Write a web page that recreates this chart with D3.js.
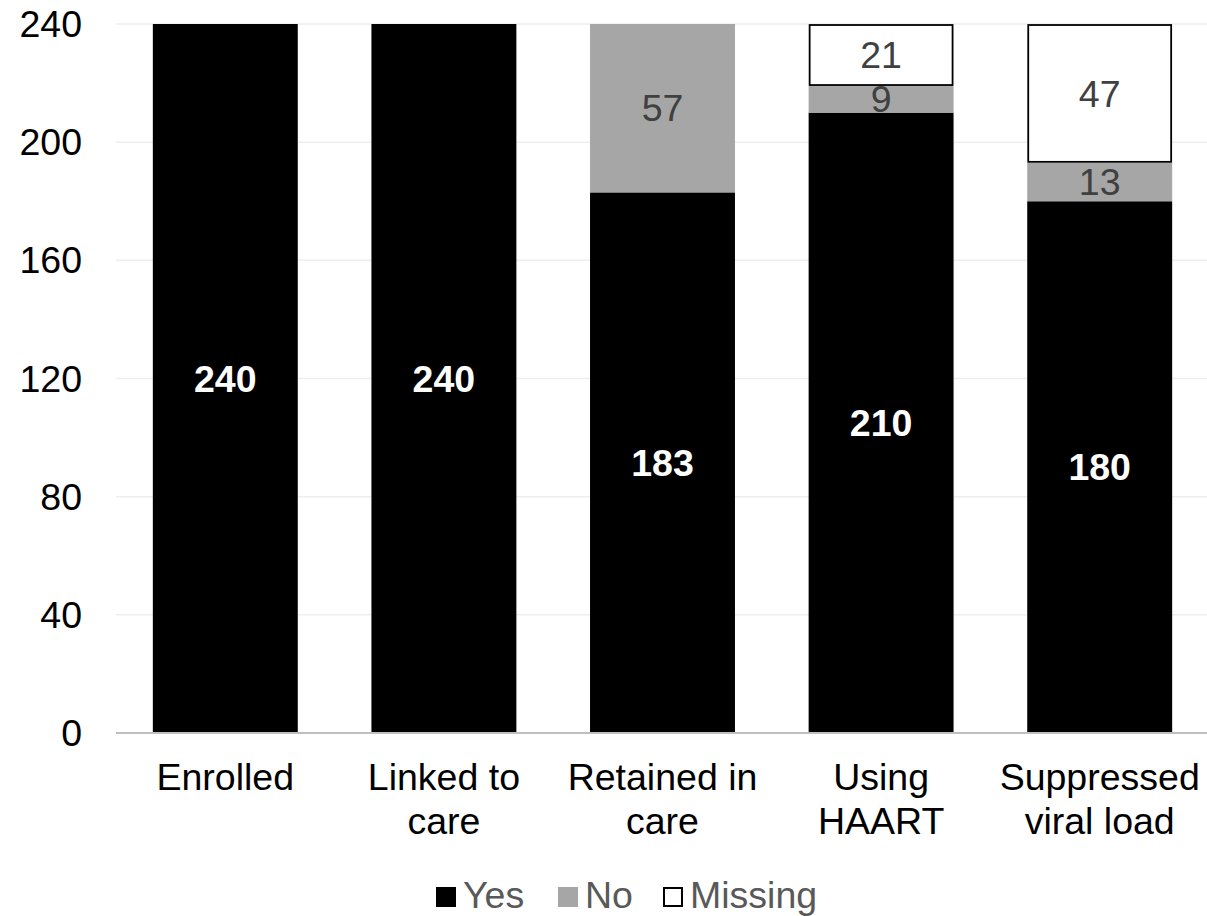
<!DOCTYPE html>
<html>
<head>
<meta charset="utf-8">
<script src="https://cdn.jsdelivr.net/npm/d3@7"></script>
<style>
  body { margin: 0; background: #fff; }
  text { font-family: "Liberation Sans", Arial, sans-serif; }
</style>
</head>
<body>
<svg id="chart" width="1207" height="916"></svg>
<script>
// chart data
var categories = [["Enrolled"], ["Linked to", "care"], ["Retained in", "care"], ["Using", "HAART"], ["Suppressed", "viral load"]];
var yesValues = [240, 240, 183, 210, 180];
var noValues = [0, 0, 57, 9, 13];
var missingValues = [0, 0, 0, 21, 47];
var yTicks = [0, 40, 80, 120, 160, 200, 240];
var seriesNames = ["Yes", "No", "Missing"];

var fontSize = 37.5;
var svg = d3.select("#chart");
var margin = {left: 116, right: -2, top: 24, bottom: 183};
var width = 1207 - margin.left - margin.right;
var height = 916 - margin.top - margin.bottom;

var g = svg.append("g").attr("transform", "translate(" + margin.left + "," + margin.top + ")");

var x = d3.scaleBand()
    .domain(d3.range(categories.length))
    .range([0, width])
    .paddingInner(0.337)
    .paddingOuter(0.1685);

var y = d3.scaleLinear().domain([0, 240]).range([height, 0]);

// gridlines
g.selectAll(".grid").data(yTicks.filter(function(d){ return d > 0; }))
  .enter().append("line")
    .attr("x1", 0).attr("x2", width)
    .attr("y1", function(d){ return y(d); }).attr("y2", function(d){ return y(d); })
    .attr("stroke", "#eeeeee").attr("stroke-width", 1.5);

// y tick labels
g.selectAll(".ytick").data(yTicks)
  .enter().append("text")
    .attr("x", -34)
    .attr("y", function(d){ return y(d); })
    .attr("dy", "0.35em")
    .attr("text-anchor", "end")
    .attr("font-size", fontSize)
    .attr("fill", "#000")
    .text(function(d){ return d; });

// stack the series
var rows = categories.map(function(c, i){
  return {i: i, Yes: yesValues[i], No: noValues[i], Missing: missingValues[i]};
});
var stacked = d3.stack().keys(seriesNames)(rows);
var fills = {Yes: "#000000", No: "#a6a6a6", Missing: "#ffffff"};

stacked.forEach(function(layer){
  var key = layer.key;
  var segs = layer.filter(function(d){ return d[1] - d[0] > 0; });
  var inset = key === "Missing" ? 1 : 0;
  g.selectAll(".seg-" + key).data(segs)
    .enter().append("rect")
      .attr("x", function(d){ return x(d.data.i) + inset; })
      .attr("width", function(d){ return x.bandwidth() - 2 * inset; })
      .attr("y", function(d){ return y(d[1]) + inset; })
      .attr("height", function(d){ return y(d[0]) - y(d[1]) - 2 * inset; })
      .attr("fill", fills[key])
      .attr("stroke", key === "Missing" ? "#000" : "none")
      .attr("stroke-width", 1.8);

  g.selectAll(".lbl-" + key).data(segs)
    .enter().append("text")
      .attr("x", function(d){ return x(d.data.i) + x.bandwidth() / 2; })
      .attr("y", function(d){ return y((d[0] + d[1]) / 2); })
      .attr("dy", "0.35em")
      .attr("text-anchor", "middle")
      .attr("font-size", fontSize)
      .attr("font-weight", key === "Yes" ? "bold" : "normal")
      .attr("fill", key === "Yes" ? "#fff" : "#404040")
      .text(function(d){ return d[1] - d[0]; });
});

// x axis line
g.append("line")
  .attr("x1", 0).attr("x2", width)
  .attr("y1", height).attr("y2", height)
  .attr("stroke", "#bfbfbf").attr("stroke-width", 2);

// category labels
categories.forEach(function(lines, i){
  var t = g.append("text")
    .attr("text-anchor", "middle")
    .attr("font-size", fontSize)
    .attr("fill", "#000");
  lines.forEach(function(line, k){
    t.append("tspan")
      .attr("x", x(i) + x.bandwidth() / 2)
      .attr("y", height + 57 + k * 44)
      .text(line);
  });
});

// legend
var legendX = [436, 558, 663];
var legend = svg.append("g");
seriesNames.forEach(function(name, i){
  var inset = name === "Missing" ? 1 : 0;
  legend.append("rect")
    .attr("x", legendX[i] + inset)
    .attr("y", 887 + inset)
    .attr("width", 20 - 2 * inset)
    .attr("height", 20 - 2 * inset)
    .attr("fill", fills[name])
    .attr("stroke", name === "Missing" ? "#000" : "none")
    .attr("stroke-width", 2);
  legend.append("text")
    .attr("x", legendX[i] + 27)
    .attr("y", 908)
    .attr("font-size", fontSize)
    .attr("fill", "#595959")
    .text(name);
});
</script>
</body>
</html>
